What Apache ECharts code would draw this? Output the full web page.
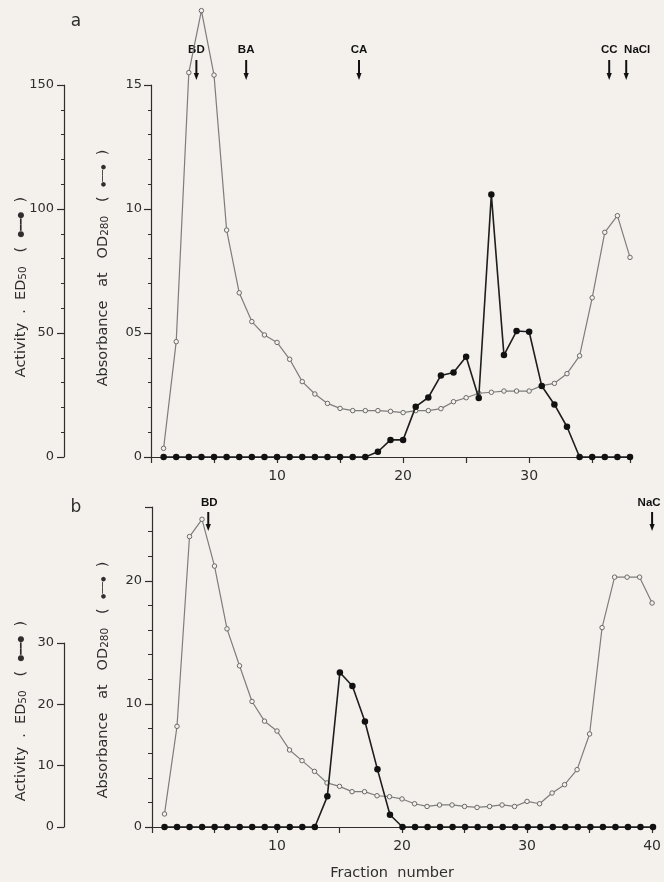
<!DOCTYPE html>
<html><head><meta charset="utf-8">
<script src="https://cdn.jsdelivr.net/npm/echarts@6/dist/echarts.min.js"></script>
<style>html,body{margin:0;padding:0;background:#f4f1ed}#c{width:664px;height:882px}</style>
</head><body><div id="c"></div><script>
// ---------- data ----------
const fractionsA = [1,2,3,4,5,6,7,8,9,10,11,12,13,14,15,16,17,18,19,20,21,22,23,24,25,26,27,28,29,30,31,32,33,34,35,36,37,38];
const absorbanceA = [0.035,0.465,1.55,1.80,1.54,0.915,0.662,0.546,0.492,0.462,0.394,0.304,0.254,0.216,0.196,0.187,0.187,0.187,0.184,0.179,0.187,0.187,0.195,0.223,0.239,0.257,0.261,0.266,0.266,0.266,0.288,0.297,0.336,0.408,0.642,0.906,0.973,0.805];
const activityA = [0,0,0,0,0,0,0,0,0,0,0,0,0,0,0,0,0,2.1,6.9,6.9,20.3,24.0,32.9,34.1,40.4,23.8,105.8,41.1,50.8,50.5,28.6,21.2,12.2,0,0,0,0,0];
const fractionsB = [1,2,3,4,5,6,7,8,9,10,11,12,13,14,15,16,17,18,19,20,21,22,23,24,25,26,27,28,29,30,31,32,33,34,35,36,37,38,39,40];
const absorbanceB = [1.06,8.18,23.6,25.0,21.2,16.1,13.1,10.2,8.6,7.8,6.26,5.39,4.52,3.58,3.30,2.87,2.87,2.54,2.46,2.28,1.89,1.67,1.79,1.79,1.67,1.59,1.67,1.79,1.67,2.08,1.89,2.76,3.44,4.66,7.56,16.2,20.3,20.3,20.3,18.2];
const activityB = [0,0,0,0,0,0,0,0,0,0,0,0,0,5.0,25.2,23.0,17.2,9.4,2.0,0,0,0,0,0,0,0,0,0,0,0,0,0,0,0,0,0,0,0,0,0];
const xTickLabels = ['10','20','30','40'];
const absTickLabelsA = {0:'0',0.5:'05',1:'10',1.5:'15'};
const markersA = [{label:'BD', fraction:3.6, dx:0},{label:'BA', fraction:7.55, dx:0},{label:'CA', fraction:16.5, dx:0},{label:'CC', fraction:36.35, dx:0},{label:'NaCl', fraction:37.7, dx:11}];
const markersB = [{label:'BD', fraction:4.5, dx:1},{label:'NaC', fraction:40, dx:-3}];

const FONT = 'DejaVu Sans';
const INK = '#2e2e2e';
const BG = '#f4f1ed';

const chart = echarts.init(document.getElementById('c'), null, {renderer:'canvas'});

function pairs(xs, ys){ return xs.map((x,i)=>[x, ys[i]]); }
const xLabelFmt = v => xTickLabels.indexOf(String(v)) >= 0 ? String(v) : '';

function xAxisCfg(grid, max, show){
  return {type:'value', gridIndex:grid, min:0, max:max, interval:5, show:show,
    axisLine:{show:true, onZero:false, lineStyle:{color:INK, width:1.2}},
    axisTick:{show:true, length:6, lineStyle:{color:INK, width:1.2}},
    axisLabel:{formatter:xLabelFmt, margin:12, color:INK, fontFamily:FONT, fontSize:14},
    splitLine:{show:false}};
}
function yAxisCfg(o){
  return Object.assign({type:'value', position:'left', splitLine:{show:false},
    axisLine:{show:true, onZero:false, lineStyle:{color:INK, width:1.2}},
    axisTick:{show:true, length:7, lineStyle:{color:INK, width:1.2}},
    axisLabel:{color:INK, fontFamily:FONT, fontSize:13, margin:9}}, o);
}
const absStyle = {type:'line', symbol:'circle', symbolSize:4.5, z:3, clip:false,
  lineStyle:{color:'#7d7d7d', width:1.2}, itemStyle:{color:BG, borderColor:'#6a6a6a', borderWidth:1}};
const actStyle = {type:'line', symbol:'circle', symbolSize:6.5, z:4, clip:false,
  lineStyle:{color:'#1e1e1e', width:1.6}, itemStyle:{color:'#111'}};

chart.setOption({
  backgroundColor: BG,
  animation:false,
  grid:[
    {left:151, top:85, width:479, height:372},
    {left:152, top:507, width:501, height:320},
    {left:152, top:643, width:501, height:184}
  ],
  xAxis:[ xAxisCfg(0,38,true), xAxisCfg(1,40,true), xAxisCfg(2,40,false) ],
  yAxis:[
    yAxisCfg({gridIndex:0, min:0, max:1.5, interval:0.5, offset:0,
      axisLabel:{color:INK, fontFamily:FONT, fontSize:13, margin:9, formatter:v=>absTickLabelsA[v]},
      minorTick:{show:true, splitNumber:5, length:3, lineStyle:{color:INK, width:1}}}),
    yAxisCfg({gridIndex:0, min:0, max:150, interval:50, offset:87,
      axisLabel:{color:INK, fontFamily:FONT, fontSize:13, margin:10},
      minorTick:{show:true, splitNumber:5, length:3, lineStyle:{color:INK, width:1}}}),
    yAxisCfg({gridIndex:1, min:0, max:26, interval:2, offset:0,
      axisTick:{show:true, length:4, lineStyle:{color:INK, width:1}},
      axisLabel:{color:INK, fontFamily:FONT, fontSize:13, margin:10, formatter:v=>(v%10===0?String(v):'')}}),
    yAxisCfg({gridIndex:1, min:0, max:26, interval:10, offset:0,
      axisLine:{show:false}, axisLabel:{show:false}}),
    yAxisCfg({gridIndex:2, min:0, max:30, interval:10, offset:88,
      axisLabel:{color:INK, fontFamily:FONT, fontSize:13, margin:10}})
  ],
  series:[
    Object.assign({}, absStyle, {xAxisIndex:0, yAxisIndex:0, data:pairs(fractionsA, absorbanceA)}),
    Object.assign({}, actStyle, {xAxisIndex:0, yAxisIndex:1, data:pairs(fractionsA, activityA)}),
    Object.assign({}, absStyle, {xAxisIndex:1, yAxisIndex:2, data:pairs(fractionsB, absorbanceB)}),
    Object.assign({}, actStyle, {xAxisIndex:2, yAxisIndex:4, data:pairs(fractionsB, activityB)})
  ]
});

// ---------- annotations ----------
const g = [];
function arrowMarks(markers, xAxisIndex, textY, y1, y2){
  markers.forEach(m=>{
    const x = chart.convertToPixel({xAxisIndex:xAxisIndex}, m.fraction);
    g.push({type:'text', x:x+m.dx, y:textY, style:{text:m.label, font:'bold 11.5px "Liberation Sans"', fill:'#111', align:'center', verticalAlign:'middle'}});
    g.push({type:'line', shape:{x1:x, y1:y1, x2:x, y2:y2-5}, style:{stroke:'#111', lineWidth:2}});
    g.push({type:'polygon', shape:{points:[[x-2.6,y2-7],[x+2.6,y2-7],[x,y2]]}, style:{fill:'#111'}});
  });
}
arrowMarks(markersA, 0, 50, 60, 80);
arrowMarks(markersB, 1, 503, 512, 531);

function vname(x, y, text, rich){
  g.push({type:'text', x:x, y:y, rotation:Math.PI/2,
    style:{text:text, rich:rich, font:'14px "DejaVu Sans"', fill:INK, align:'center', verticalAlign:'middle'}});
}
const richAct = {
  t:{fontFamily:FONT, fontSize:14.5, color:INK},
  s:{fontFamily:FONT, fontSize:10.5, color:INK, verticalAlign:'bottom', padding:[3,0,0,0]},
  k:{fontFamily:FONT, fontSize:8, color:'#111'},
  l:{fontFamily:FONT, fontSize:10, color:'#111'}
};
const richAbs = {
  t:{fontFamily:FONT, fontSize:14.5, color:INK},
  s:{fontFamily:FONT, fontSize:10.5, color:INK, verticalAlign:'bottom', padding:[3,0,0,0]},
  k:{fontFamily:FONT, fontSize:6, color:'#666'},
  l:{fontFamily:FONT, fontSize:10, color:'#777'}
};
const actName = '{t|Activity  .  ED}{s|50}{t|   (  }{k|●}{l|━━}{k|●}{t|  )}';
const absName = '{t|Absorbance   at   OD}{s|280}{t|   (  }{k|●}{l|──}{k|●}{t|  )}';
vname(21, 287, actName, richAct);
vname(103, 268, absName, richAbs);
vname(21, 711, actName, richAct);
vname(103, 680, absName, richAbs);

g.push({type:'text', x:76, y:22, style:{text:'a', font:'17px "DejaVu Sans"', fill:INK, align:'center', verticalAlign:'middle'}});
g.push({type:'text', x:76, y:508, style:{text:'b', font:'17px "DejaVu Sans"', fill:INK, align:'center', verticalAlign:'middle'}});
g.push({type:'text', x:392, y:873, style:{text:'Fraction  number', font:'14.5px "DejaVu Sans"', fill:INK, align:'center', verticalAlign:'middle'}});

chart.setOption({graphic:g});
</script></body></html>
